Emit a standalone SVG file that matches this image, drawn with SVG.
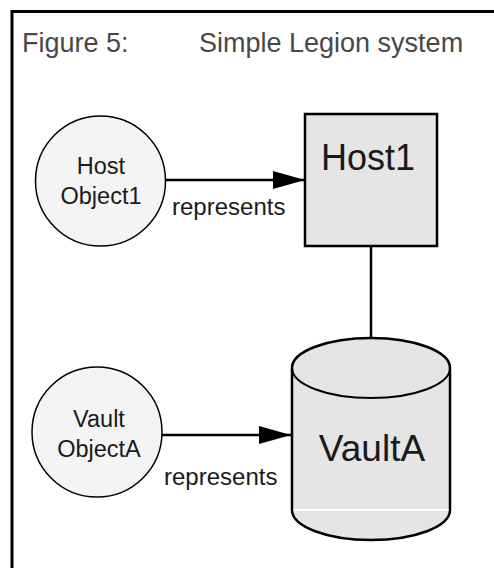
<svg xmlns="http://www.w3.org/2000/svg" width="494" height="568" viewBox="0 0 494 568">
  <style>
    .lbl { font-family: "Liberation Sans", Arial, sans-serif; fill: #1a1a1a; }
    .title { font-family: "Liberation Sans", Arial, sans-serif; font-size: 27px; fill: #484848; }
    .obj { fill: #f4f4f4; stroke: #000; stroke-width: 1.5; }
    .res { fill: #e5e5e5; stroke: #000; stroke-width: 2.5; }
    .edge { stroke: #000; stroke-width: 2.5; fill: none; }
  </style>
  <defs>
    <marker id="arrow" markerWidth="32" markerHeight="18" refX="32" refY="9" orient="auto" markerUnits="userSpaceOnUse">
      <polygon points="0,0 32,9 0,18" fill="#000"/>
    </marker>
  </defs>
  <rect width="494" height="568" fill="#fff"/>
  <!-- frame -->
  <path d="M12,568 V11.5 H494" fill="none" stroke="#000" stroke-width="3"/>
  <text class="title" x="22" y="52">Figure 5:</text>
  <text class="title" x="199" y="52">Simple Legion system</text>

  <g id="connectors">
    <line class="edge" x1="166" y1="180" x2="305" y2="180" marker-end="url(#arrow)"/>
    <line class="edge" x1="162" y1="435" x2="291" y2="435" marker-end="url(#arrow)"/>
    <line class="edge" x1="371" y1="246" x2="371" y2="339"/>
    <text class="lbl" x="172" y="215" font-size="24">represents</text>
    <text class="lbl" x="164" y="485" font-size="24">represents</text>
  </g>

  <g id="host-object1">
    <circle class="obj" cx="100.5" cy="181" r="65"/>
    <text class="lbl" x="101" y="174" font-size="23.5" text-anchor="middle">Host</text>
    <text class="lbl" x="101" y="204" font-size="23.5" text-anchor="middle">Object1</text>
  </g>

  <g id="host1">
    <rect class="res" x="305" y="114" width="132" height="132"/>
    <text class="lbl" x="368" y="170" font-size="36" text-anchor="middle">Host1</text>
  </g>

  <g id="vault-objecta">
    <circle class="obj" cx="97" cy="432" r="65"/>
    <text class="lbl" x="99" y="427" font-size="23.5" text-anchor="middle">Vault</text>
    <text class="lbl" x="99" y="457" font-size="23.5" text-anchor="middle">ObjectA</text>
  </g>

  <g id="vaulta">
    <path class="res" d="M292,368 V510 A79,30 0 0 0 450,510 V368 A79,30 0 0 0 292,368 Z"/>
    <path d="M292,368 A79,30 0 0 0 450,368" fill="none" stroke="#000" stroke-width="2"/>
    <line x1="293.5" y1="510" x2="448.5" y2="510" stroke="#fff" stroke-width="2"/>
    <text class="lbl" x="372" y="461" font-size="37" text-anchor="middle">VaultA</text>
  </g>
</svg>
